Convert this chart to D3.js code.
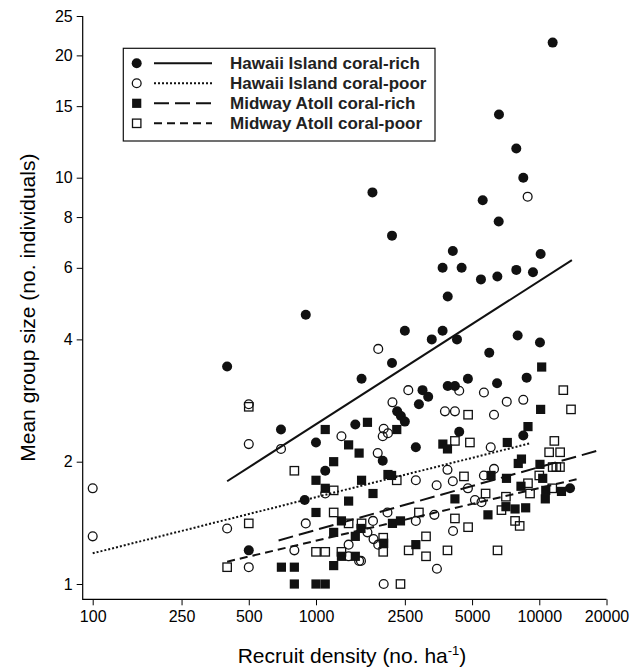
<!DOCTYPE html>
<html>
<head>
<meta charset="utf-8">
<script src="https://cdn.jsdelivr.net/npm/d3@7"></script>
<style>
  body { margin: 0; background: #fff; }
  #chart { width: 644px; height: 672px; }
  text { font-family: "Liberation Sans", Arial, Helvetica, sans-serif; }
</style>
</head>
<body>
<div id="chart"></div>
<script>
// Recruit density (no. ha-1) vs mean group size, one array per site/habitat
const hawaiiRich = [
  [11480, 21.5], [6600, 14.3], [7890, 11.8], [8480, 10.0], [1790, 9.2], [5580, 8.8],
  [6580, 7.8], [2190, 7.2], [4100, 6.6], [3690, 6.0], [4490, 6.0], [5480, 5.62],
  [6490, 5.71], [7890, 5.93], [9370, 5.85], [10140, 6.49], [3890, 5.1], [2500, 4.2],
  [3300, 4.0], [3690, 4.2], [4280, 4.0], [8000, 4.09], [10070, 3.93], [5970, 3.71],
  [2190, 3.5], [900, 4.6], [400, 3.43], [1600, 3.2], [4790, 3.2], [3000, 3.0],
  [3180, 2.89], [2890, 2.77], [3890, 3.07], [4190, 3.07], [6470, 3.12], [2310, 2.66],
  [2400, 2.59], [2500, 2.51], [8780, 3.22], [4380, 2.37], [2800, 2.17], [1990, 2.01],
  [8480, 2.32], [13730, 1.72], [1500, 2.47], [1000, 2.23], [1100, 1.90], [890, 1.61],
  [697, 2.40], [500, 1.21]
];

const hawaiiPoor = [
  [100, 1.72], [100, 1.31], [500, 2.77], [500, 2.21], [697, 2.15], [400, 1.37],
  [900, 1.41], [500, 1.10], [800, 1.21], [1300, 2.31], [1100, 1.67], [1400, 1.25],
  [1400, 1.17], [1560, 1.14], [1900, 3.79], [8870, 8.98], [2010, 2.41], [2100, 2.35],
  [1990, 2.31], [1890, 2.10], [2090, 1.50], [1800, 1.43], [1700, 1.34], [1810, 1.29],
  [1900, 1.25], [1590, 1.14], [2010, 1.0], [2590, 3.0], [4380, 2.99], [5650, 2.96],
  [2200, 2.80], [7150, 2.81], [8480, 2.84], [3780, 2.66], [4190, 2.66], [6270, 2.61],
  [6060, 2.17], [3880, 1.91], [6270, 1.92], [2800, 1.80], [4100, 1.79], [3470, 1.75],
  [4790, 1.72], [5650, 1.85], [5150, 1.61], [5510, 1.59], [3390, 1.48], [2800, 1.43],
  [4110, 1.35], [3480, 1.09]
];

const midwayRich = [
  [1100, 2.40], [1400, 2.20], [1560, 2.10], [1200, 2.0], [1000, 1.80], [1100, 1.72],
  [1400, 1.60], [1000, 1.50], [1300, 1.43], [1200, 1.34], [1300, 1.17], [1500, 1.17],
  [700, 1.10], [800, 1.10], [1200, 1.11], [800, 1.0], [1000, 1.0], [1100, 1.0],
  [1700, 2.50], [2300, 2.40], [1600, 1.80], [1800, 1.67], [2100, 1.86], [2180, 1.85],
  [1500, 1.31], [1590, 1.37], [2200, 1.41], [2390, 1.43], [2010, 1.26], [10250, 3.42],
  [10140, 2.69], [8900, 2.44], [3700, 2.21], [3880, 2.15], [7190, 2.23], [8320, 2.03],
  [8050, 1.98], [10070, 1.97], [6080, 1.85], [7130, 1.82], [10360, 1.82], [8280, 1.74],
  [4190, 1.62], [10640, 1.62], [12570, 1.69], [5890, 1.48], [7090, 1.55], [7790, 1.53],
  [8690, 1.54], [2800, 1.25], [10690, 1.70]
];

const midwayPoor = [
  [500, 2.73], [800, 1.90], [1200, 1.70], [1200, 1.50], [500, 1.41], [1400, 1.41],
  [400, 1.10], [1000, 1.20], [1100, 1.20], [1300, 1.20], [1600, 1.41], [2300, 1.80],
  [2000, 1.30], [2000, 1.20], [2390, 1.0], [12810, 3.0], [13870, 2.69], [4800, 2.61],
  [4190, 2.25], [4890, 2.23], [11680, 2.25], [11070, 2.11], [12400, 2.11], [4600, 1.84],
  [11480, 1.94], [11920, 1.94], [12380, 1.94], [10000, 1.85], [8900, 1.77], [9090, 1.67],
  [5750, 1.67], [7090, 1.64], [11430, 1.72], [2890, 1.50], [4190, 1.45], [6770, 1.52],
  [7790, 1.43], [8170, 1.39], [4800, 1.38], [3110, 1.31], [2600, 1.21], [3110, 1.17],
  [3880, 1.21], [6500, 1.21]
];

// fitted lines, start and end point of each
const hawaiiRichFit = [[400, 1.79], [14000, 6.27]];
const hawaiiPoorFit = [[100, 1.19], [9100, 2.22]];
const midwayRichFit = [[680, 1.28], [18300, 2.13]];
const midwayPoorFit = [[400, 1.135], [15300, 1.82]];

const seriesNames = ["Hawaii Island coral-rich", "Hawaii Island coral-poor",
                     "Midway Atoll coral-rich", "Midway Atoll coral-poor"];

const xTicks = [100, 250, 500, 1000, 2500, 5000, 10000, 20000];
const yTicks = [1, 2, 4, 6, 8, 10, 15, 20, 25];

// symbol + line style for each series
const series = [
  { name: seriesNames[0], points: hawaiiRich, fit: hawaiiRichFit, shape: "circle", filled: true,  dash: null },
  { name: seriesNames[1], points: hawaiiPoor, fit: hawaiiPoorFit, shape: "circle", filled: false, dash: "2,2" },
  { name: seriesNames[2], points: midwayRich, fit: midwayRichFit, shape: "square", filled: true,  dash: "15,6" },
  { name: seriesNames[3], points: midwayPoor, fit: midwayPoorFit, shape: "square", filled: false, dash: "8,5" }
];

const width = 644, height = 672;
const plot = { left: 82.7, right: 606.5, top: 16, bottom: 599.3 };

const svg = d3.select("#chart").append("svg")
  .attr("width", width)
  .attr("height", height);

const x = d3.scaleLog().domain([90.2, 20000]).range([plot.left, plot.right]);
const y = d3.scaleLog().domain([0.917, 25]).range([plot.bottom, plot.top]);

// X axis
const xAxis = svg.append("g")
  .attr("transform", `translate(0, ${plot.bottom})`)
  .call(d3.axisBottom(x).tickValues(xTicks).tickFormat(d3.format("d")).tickSize(6).tickPadding(5));
xAxis.select(".domain").remove();
xAxis.selectAll("text").style("font-size", "16px").attr("fill", "#000");
xAxis.selectAll("line").attr("stroke", "#000");

// Y axis
const yAxis = svg.append("g")
  .attr("transform", `translate(${plot.left}, 0)`)
  .call(d3.axisLeft(y).tickValues(yTicks).tickFormat(d3.format("d")).tickSize(6).tickPadding(4));
yAxis.select(".domain").remove();
yAxis.selectAll("text").style("font-size", "16px").attr("fill", "#000");
yAxis.selectAll("line").attr("stroke", "#000");

// L shaped frame
svg.append("path")
  .attr("d", `M${plot.left},${plot.top}V${plot.bottom}H${plot.right}`)
  .attr("fill", "none")
  .attr("stroke", "#000")
  .attr("stroke-width", 1.2);

// Axis titles
svg.append("text")
  .attr("x", 352)
  .attr("y", 663)
  .attr("text-anchor", "middle")
  .style("font-size", "21px")
  .text("Recruit density (no. ha")
  .append("tspan").attr("dy", -8).style("font-size", "13px").text("-1")
  .select(function() { return this.parentNode; })
  .append("tspan").attr("dy", 8).text(")");

svg.append("text")
  .attr("transform", `translate(35, ${(plot.top + plot.bottom) / 2}) rotate(-90)`)
  .attr("text-anchor", "middle")
  .style("font-size", "21px")
  .text("Mean group size (no. individuals)");

function drawSymbol(g, s, cx, cy) {
  if (s.shape === "circle") {
    g.append("circle")
      .attr("cx", cx).attr("cy", cy)
      .attr("r", s.filled ? 5 : 4.4)
      .attr("fill", s.filled ? "#111" : "none")
      .attr("stroke", "#111")
      .attr("stroke-width", s.filled ? 0 : 1.3);
  } else {
    const half = s.filled ? 4.6 : 4.2;
    g.append("rect")
      .attr("x", cx - half).attr("y", cy - half)
      .attr("width", half * 2).attr("height", half * 2)
      .attr("fill", s.filled ? "#111" : "none")
      .attr("stroke", "#111")
      .attr("stroke-width", s.filled ? 0 : 1.3);
  }
}

// Data points
const pointLayer = svg.append("g");
series.forEach(s => {
  s.points.forEach(p => drawSymbol(pointLayer, s, x(p[0]), y(p[1])));
});

// Fitted lines
const line = d3.line().x(d => x(d[0])).y(d => y(d[1]));
series.forEach(s => {
  svg.append("path")
    .datum(s.fit)
    .attr("d", line)
    .attr("fill", "none")
    .attr("stroke", "#111")
    .attr("stroke-width", 2)
    .attr("stroke-dasharray", s.dash);
});

// Legend
const legend = svg.append("g");
legend.append("rect")
  .attr("x", 123.3).attr("y", 48.3)
  .attr("width", 311.7).attr("height", 92.7)
  .attr("fill", "#fff")
  .attr("stroke", "#111")
  .attr("stroke-width", 1.2);

series.forEach((s, i) => {
  const cy = 63.3 + i * 20;
  drawSymbol(legend, s, 136.7, cy);
  legend.append("line")
    .attr("x1", 154).attr("x2", 212)
    .attr("y1", cy).attr("y2", cy)
    .attr("stroke", "#111")
    .attr("stroke-width", 2)
    .attr("stroke-dasharray", s.dash);
  legend.append("text")
    .attr("x", 230).attr("y", cy + 6)
    .style("font-size", "17px")
    .style("font-weight", "bold")
    .attr("fill", "#222")
    .text(s.name);
});
</script>
</body>
</html>
